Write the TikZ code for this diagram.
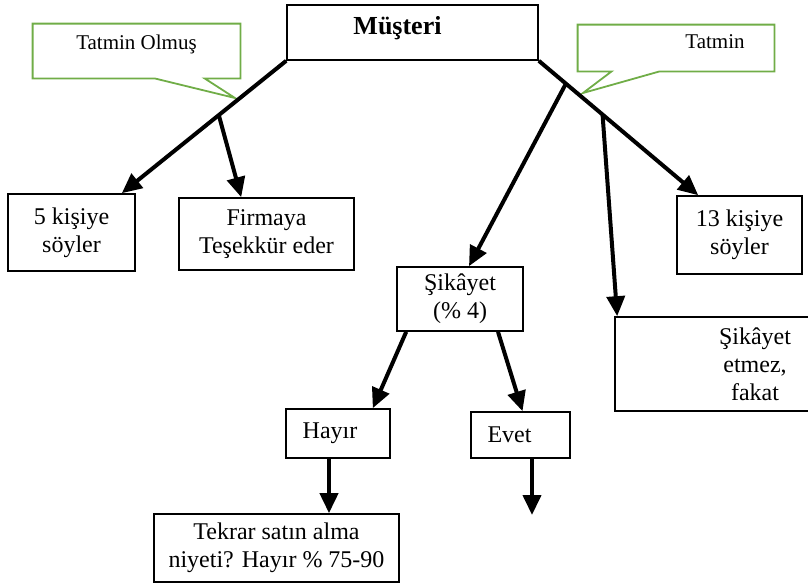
\documentclass[tikz,border=0pt]{standalone}
\usepackage{fontspec}
\setmainfont{Liberation Serif}
\usetikzlibrary{arrows.meta,calc}

\definecolor{callgreen}{HTML}{70AD47}

\begin{document}
\begin{tikzpicture}[x=0.5pt,y=-0.5pt,
    box/.style={draw,thick,align=center,inner sep=0pt,font=\fontsize{12pt}{14pt}\selectfont},
    callbox/.style={inner sep=0pt,font=\fontsize{10.5pt}{12pt}\selectfont},
    callline/.style={draw=callgreen,line width=0.9pt},
    flow/.style={line width=2pt,-{Triangle[length=10pt,width=9pt]}}]
    \useasboundingbox (0,0) rectangle (808,584);

    % Customer
    \node[box,minimum width=125.5pt,minimum height=27.5pt,text depth=7pt,
          font=\bfseries\fontsize{13pt}{15pt}\selectfont] (must) at (412.5,32.5) {Müşteri\hspace*{15pt}};

    % Callouts
    \node[callbox,minimum width=103.5pt,minimum height=27pt,text depth=8.5pt] (unsat) at (136.5,51) {Tatmin Olmuş};
    \coordinate (unsattip) at (235,98);
    \draw[callline] (unsat.south west) -- (unsat.north west) -- (unsat.north east) -- (unsat.south east)
        -- ([xshift=86pt]unsat.south west) -- (unsattip) -- ([xshift=61pt]unsat.south west) -- cycle;

    \node[callbox,minimum width=98pt,minimum height=23pt,text depth=6.5pt] (sat) at (676,48) {\hspace*{39pt}Tatmin};
    \coordinate (sattip) at (583,93);
    \draw[callline] (sat.south west) -- (sat.north west) -- (sat.north east) -- (sat.south east)
        -- ([xshift=41pt]sat.south west) -- (sattip) -- ([xshift=17pt]sat.south west) -- cycle;

    % Boxes
    \node[box,minimum width=63.5pt,minimum height=38.5pt] (five) at (71.5,232.5) {5 kişiye\\söyler};
    \node[box,minimum width=87.5pt,minimum height=36pt] (firma) at (266.5,234) {Firmaya\\Teşekkür eder};
    \node[box,minimum width=62.5pt,minimum height=39pt] (thirteen) at (739.5,235) {13 kişiye\\söyler};
    \node[box,minimum width=63pt,minimum height=32pt] (sikayet) at (460,299) {Şikâyet\\(\% 4)};
    \node[box,minimum width=100pt,minimum height=47pt] (etmez) at (715,364)
        {\hspace*{40pt}Şikâyet\\\hspace*{40pt}etmez,\\\hspace*{40pt}fakat};
    \node[box,minimum width=52pt,minimum height=24.5pt] (hayir) at (338,433.5) {Hayır\hspace*{8pt}};
    \node[box,minimum width=49.5pt,minimum height=23pt] (evet) at (520.5,435) {Evet\hspace*{11pt}};
    \node[box,minimum width=122.5pt,minimum height=34pt] (tekrar) at (276.5,548) {Tekrar satın alma\\niyeti? Hayır \% 75-90};

    % Arrows
    \coordinate (fivetip) at ([xshift=-7pt]five.north east);
    \coordinate (thirteentip) at ([xshift=11pt]thirteen.north west);
    \coordinate (evetend) at (532,515);
    \draw[flow] (must.south west) -- (fivetip);
    \draw[flow] ($(must.south west)!0.41!(fivetip)$) -- ([xshift=31.5pt]firma.north west);
    \draw[flow] (must.south east) -- (thirteentip);
    \draw[flow] ($(must.south east)!0.17!(thirteentip)$) -- ([xshift=4.5pt]sikayet.north);
    \draw[flow] ($(must.south east)!0.4!(thirteentip)$) -- ([xshift=1.5pt]etmez.north west);
    \draw[flow] ([xshift=5pt]sikayet.south west) -- ([xshift=-9pt]hayir.north east);
    \draw[flow] ([xshift=19pt]sikayet.south) -- ([xshift=1pt]evet.north);
    \draw[flow] ([xshift=-4.5pt]hayir.south) -- ([xshift=-4.5pt]hayir.south |- tekrar.north);
    \draw[flow] (evet.south -| evetend) -- (evetend);
\end{tikzpicture}
\end{document}
